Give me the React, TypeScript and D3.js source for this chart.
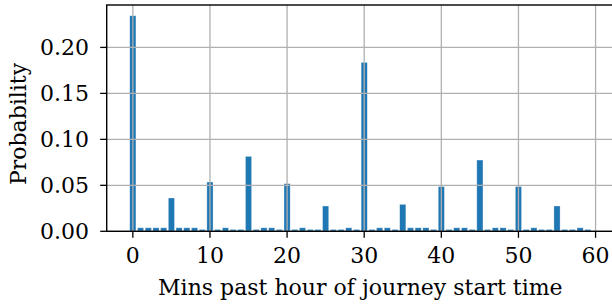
import React from "react";
import * as d3 from "d3";

const minutes: number[] = d3.range(0, 60);
const probabilities: number[] = [
  0.2344, 0.0038, 0.0038, 0.0038, 0.0038, 0.0362, 0.0038, 0.0038, 0.0038, 0.002,
  0.0536, 0.002, 0.0038, 0.002, 0.002, 0.0815, 0.002, 0.0038, 0.0038, 0.002,
  0.0518, 0.002, 0.0038, 0.002, 0.002, 0.0275, 0.002, 0.002, 0.0038, 0.002,
  0.1837, 0.002, 0.0038, 0.0038, 0.002, 0.0293, 0.0038, 0.0038, 0.0038, 0.002,
  0.0486, 0.002, 0.0038, 0.0038, 0.002, 0.0775, 0.002, 0.0038, 0.0038, 0.002,
  0.0486, 0.002, 0.0038, 0.002, 0.002, 0.0275, 0.002, 0.002, 0.0038, 0.002,
];
const xTicks: number[] = [0, 10, 20, 30, 40, 50, 60];
const yTicks: number[] = [0, 0.05, 0.1, 0.15, 0.2];
const xLabel = "Mins past hour of journey start time";
const yLabel = "Probability";

const W = 612;
const H = 307;
const L = 106.7;
const R = 614;
const T = 5;
const B = 231.3;
const FONT = "'DejaVu Serif', serif";

export default function App() {
  const x = d3.scaleLinear().domain([-3.39, 62.39]).range([L, R]);
  const yMax = (d3.max(probabilities) as number) * 1.05;
  const y = d3.scaleLinear().domain([0, yMax]).range([B, T]);
  const bw = 0.8;
  return (
    <svg
      width={W}
      height={H}
      style={{ position: "absolute", left: 0, top: 0, background: "#fff" }}
    >
      <defs>
        <clipPath id="plot">
          <rect x={L} y={T} width={R - L} height={B - T} />
        </clipPath>
      </defs>
      <g clipPath="url(#plot)">
        {minutes.map((m, i) => (
          <rect
            key={m}
            x={x(m - bw / 2)}
            y={y(probabilities[i])}
            width={x(bw) - x(0)}
            height={B - y(probabilities[i])}
            fill="#1f77b4"
            stroke="#ffffff"
            strokeOpacity={0.5}
            strokeWidth={0.6}
          />
        ))}
        {xTicks.map((t) => (
          <line key={"gx" + t} x1={x(t)} x2={x(t)} y1={T} y2={B} stroke="#b0b0b0" strokeWidth={1.3} />
        ))}
        {yTicks.map((t) => (
          <line key={"gy" + t} x1={L} x2={R} y1={y(t)} y2={y(t)} stroke="#b0b0b0" strokeWidth={1.3} />
        ))}
      </g>
      <rect x={L} y={T} width={R - L} height={B - T} fill="none" stroke="#000" strokeWidth={1.4} />
      {xTicks.map((t) => (
        <g key={"xt" + t}>
          <line x1={x(t)} x2={x(t)} y1={B} y2={B + 6.5} stroke="#000" strokeWidth={1.3} />
          <text x={x(t)} y={263} textAnchor="middle" fontFamily={FONT} fontSize={22} fill="#000">
            {t}
          </text>
        </g>
      ))}
      {yTicks.map((t) => (
        <g key={"yt" + t}>
          <line x1={L - 6.5} x2={L} y1={y(t)} y2={y(t)} stroke="#000" strokeWidth={1.3} />
          <text
            x={89}
            y={y(t)}
            dy="0.36em"
            textAnchor="end"
            fontFamily={FONT}
            fontSize={22}
            fill="#000"
          >
            {t.toFixed(2)}
          </text>
        </g>
      ))}
      <text x={(L + R) / 2} y={295} textAnchor="middle" fontFamily={FONT} fontSize={22} fill="#000">
        {xLabel}
      </text>
      <text
        transform={`translate(26,124) rotate(-90)`}
        textAnchor="middle"
        fontFamily={FONT}
        fontSize={22}
        fill="#000"
      >
        {yLabel}
      </text>
    </svg>
  );
}
